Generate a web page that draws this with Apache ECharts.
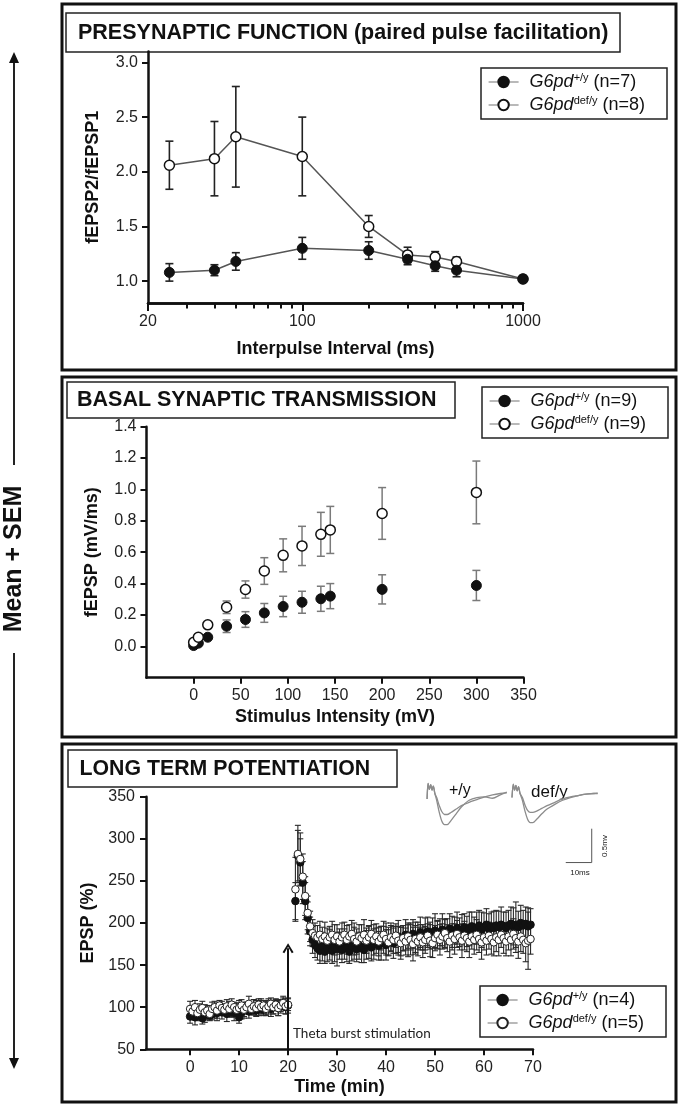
<!DOCTYPE html>
<html><head><meta charset="utf-8">
<script src="https://cdn.jsdelivr.net/npm/echarts@6/dist/echarts.min.js"></script>
<style>html,body{margin:0;padding:0;background:#fff}#c{width:682px;height:1109px}</style>
</head><body><div id="c"></div>
<script>
// ---------- Panel 1: paired pulse facilitation ----------
const ppfInterval = [25, 40, 50, 100, 200, 300, 400, 500, 1000];
const ppfWtMean  = [1.08, 1.10, 1.18, 1.30, 1.28, 1.20, 1.14, 1.10, 1.02];
const ppfWtSem   = [0.08, 0.05, 0.08, 0.10, 0.08, 0.05, 0.05, 0.06, 0.03];
const ppfDefMean = [2.06, 2.12, 2.32, 2.14, 1.50, 1.24, 1.22, 1.18, 1.02];
const ppfDefSem  = [0.22, 0.34, 0.46, 0.36, 0.10, 0.07, 0.05, 0.04, 0.03];
const ppfYTicks = [1.0, 1.5, 2.0, 2.5, 3.0];
const ppfMinorTicks = [30, 40, 50, 60, 70, 80, 90, 200, 300, 400, 500, 600, 700, 800, 900];

// ---------- Panel 2: input/output ----------
const ioStim    = [0, 5, 15, 35, 55, 75, 95, 115, 135, 145, 200, 300];
const ioWtMean  = [0.005, 0.02, 0.058, 0.128, 0.171, 0.213, 0.254, 0.281, 0.303, 0.32, 0.363, 0.388];
const ioWtSem   = [0.005, 0.008, 0.01, 0.04, 0.05, 0.06, 0.065, 0.07, 0.08, 0.08, 0.093, 0.096];
const ioDefMean = [0.026, 0.058, 0.137, 0.249, 0.362, 0.48, 0.58, 0.64, 0.714, 0.742, 0.847, 0.981];
const ioDefSem  = [0.01, 0.01, 0.015, 0.04, 0.055, 0.085, 0.105, 0.125, 0.14, 0.15, 0.165, 0.20];
const ioXTicks = [0, 50, 100, 150, 200, 250, 300, 350];
const ioYTicks = [0, 0.2, 0.4, 0.6, 0.8, 1.0, 1.2, 1.4];

// ---------- Panel 3: LTP ----------
const ltpTime = [0,0.5,1,1.5,2,2.5,3,3.5,4,4.5,5,5.5,6,6.5,7,7.5,8,8.5,9,9.5,10,10.5,11,11.5,12,12.5,13,13.5,14,14.5,15,15.5,16,16.5,17,17.5,18,18.5,19,19.5,20,
21.5,22,22.5,23,23.5,24,24.5,25,25.5,26,26.5,27,27.5,28,28.5,29,29.5,30,30.5,31,31.5,32,32.5,33,33.5,34,34.5,35,35.5,36,36.5,37,37.5,38,38.5,39,39.5,40,40.5,41,41.5,42,42.5,43,43.5,44,44.5,45,45.5,46,46.5,47,47.5,48,48.5,49,49.5,50,50.5,51,51.5,52,52.5,53,53.5,54,54.5,55,55.5,56,56.5,57,57.5,58,58.5,59,59.5,60,60.5,61,61.5,62,62.5,63,63.5,64,64.5,65,65.5,66,66.5,67,67.5,68,68.5,69,69.5];
const ltpWtMean = [89,92,88,90,93,87,91,94,90,92, 95,93,97,94,96,92,98,95,93,97, 88,94,96,99,95,97,100,96,98,101, 97,99,102,98,100,103,99,101,104,100, 102,
226,280,272,248,226,206,190,180,174,170,
167,172,166,170,174,167,171,169,173,168,
175,170,166,172,176,169,173,171,168,174,
177,171,175,179,173,176,180,174,178,182,
176,180,184,178,182,186,180,184,187,182,
185,189,183,187,190,185,188,191,186,189,
192,187,190,193,188,191,194,189,192,195,
190,193,196,191,194,197,192,195,198,193,
196,194,197,195,198,196,194,197,199,196,
198,195,200,197,199,196,198];
const ltpWtSem = [8,7,9,6,8,7,9,8,6,7, 8,9,7,8,6,9,8,7,9,8, 7,8,9,7,8,6,9,7,8,9, 7,8,6,9,8,7,9,8,7,8, 9,
22,30,28,25,22,19,17,16,15,14,
15,17,14,16,18,15,17,20,16,15,
18,16,14,17,19,15,16,18,15,17,
19,16,18,15,17,20,16,18,17,15,
18,16,19,17,15,18,20,16,17,19,
16,18,15,19,17,16,18,20,17,16,
19,17,15,18,20,16,19,17,18,16,
18,20,17,16,19,18,21,17,19,18,
17,20,18,19,21,17,19,18,20,22,
27,19,21,18,20,22,19];
const ltpDefMean = [98,95,100,93,97,99,94,96,92,98, 100,96,102,99,97,101,98,103,100,97, 99,102,97,100,104,98,101,99,103,100, 102,98,101,104,100,103,99,102,105,101, 103,
240,282,276,255,232,212,196,188,185,183,
186,181,184,179,183,186,180,184,178,183,
186,180,184,187,181,178,184,182,186,179,
183,187,180,184,178,182,186,181,177,183,
180,185,179,176,182,178,184,180,175,181,
178,183,177,180,185,179,176,182,186,180,
184,188,182,178,185,181,187,183,179,185,
182,178,184,180,186,181,177,183,179,185,
181,177,183,180,186,182,178,184,180,187,
182,178,184,180,176,179,181];
const ltpDefSem = [9,7,8,6,7,8,9,6,7,8, 7,9,6,8,7,8,9,7,6,8, 9,7,8,6,9,7,8,9,7,8, 6,8,9,7,8,6,9,7,8,9, 7,
38,34,31,27,23,20,18,16,15,14,
16,14,17,15,13,16,18,14,15,17,
15,17,14,16,19,15,14,16,18,15,
14,16,18,15,17,14,16,19,15,17,
16,14,17,19,15,16,14,18,20,16,
17,15,18,16,14,19,17,15,16,18,
15,17,16,19,14,18,16,15,20,17,
16,19,15,17,18,16,20,15,17,16,
18,16,17,19,15,18,17,16,19,18,
17,20,18,16,22,34,18];
const ltpXTicks = [0, 10, 20, 30, 40, 50, 60, 70];
const tbsTime = 20, tbsArrowTop = 170;

// ---------- inset traces (ms, mV) ----------
const traceWtSmall = [[0.8,-0.1],[1.2,0.13],[1.7,0.04],[2.2,0.11],[2.7,0.03],[3.2,0.09],[3.8,-0.02],[4.5,-0.08],[5.5,-0.2],[6.5,-0.29],[7.5,-0.33],[8.5,-0.33],[10,-0.3],[12,-0.25],[14,-0.2],[17,-0.15],[20,-0.11],[23,-0.07],[26,-0.04],[29,-0.02],[31.5,-0.01]];
const traceWtLarge = [[0.8,-0.1],[1.2,0.13],[1.7,0.04],[2.2,0.11],[2.7,0.03],[3.2,0.09],[3.8,-0.02],[4.5,-0.12],[5.5,-0.3],[6.5,-0.43],[7.5,-0.48],[8.5,-0.48],[10,-0.42],[12,-0.32],[14,-0.22],[17,-0.12],[20,-0.08],[23,-0.07],[26,-0.09],[29,-0.04],[31.5,0]];
const traceDefSmall = [[33.5,-0.08],[34,0.12],[34.5,0.03],[35,0.1],[35.5,0.02],[36,0.08],[36.6,-0.02],[37.5,-0.08],[38.5,-0.19],[39.5,-0.27],[40.5,-0.3],[41.5,-0.3],[43,-0.28],[45,-0.24],[47,-0.2],[50,-0.15],[53,-0.1],[56,-0.07],[59,-0.05],[62,-0.03],[65,-0.02],[66.5,-0.015]];
const traceDefLarge = [[33.5,-0.08],[34,0.12],[34.5,0.03],[35,0.1],[35.5,0.02],[36,0.08],[36.6,-0.02],[37.5,-0.12],[38.5,-0.28],[39.5,-0.4],[40.5,-0.45],[41.5,-0.45],[43,-0.4],[45,-0.32],[47,-0.25],[50,-0.18],[53,-0.12],[56,-0.08],[59,-0.05],[62,-0.03],[65,-0.02],[66.5,-0.02]];
const scaleBar = [[54.2,-1.04],[64.2,-1.04],[64.2,-0.54]];

// ---------- legend text ----------
const legendSup = {ppfWt:'+/y', ppfDef:'def/y', ioWt:'+/y', ioDef:'def/y', ltpWt:'+/y', ltpDef:'def/y'};
const legendN = {ppfWt:7, ppfDef:8, ioWt:9, ioDef:9, ltpWt:4, ltpDef:5};

// ---------- helpers ----------
const zip = (xs, ys) => xs.map((x, i) => [x, ys[i]]);
const errData = (xs, m, s) => xs.map((x, i) => [x, m[i] - s[i], m[i] + s[i]]);
function errRender(color, lw, cap) {
  return function (params, api) {
    const x = api.value(0);
    const p1 = api.coord([x, api.value(1)]);
    const p2 = api.coord([x, api.value(2)]);
    const st = {stroke: color, lineWidth: lw};
    return {type: 'group', children: [
      {type: 'line', shape: {x1: p1[0], y1: p1[1], x2: p2[0], y2: p2[1]}, style: st},
      {type: 'line', shape: {x1: p1[0] - cap, y1: p1[1], x2: p1[0] + cap, y2: p1[1]}, style: st},
      {type: 'line', shape: {x1: p2[0] - cap, y1: p2[1], x2: p2[0] + cap, y2: p2[1]}, style: st}
    ]};
  };
}
function makeLegend(names, left, top) {
  return {
    data: names, orient: 'vertical', left: left, top: top,
    itemWidth: 30, itemHeight: 13, itemGap: 3, padding: [4, 22, 4, 7],
    borderColor: '#222', borderWidth: 1.5, backgroundColor: '#fff', selectedMode: false,
    lineStyle: {color: '#8a8a8a', width: 1.2, opacity: 1},
    textStyle: {fontSize: 18, color: '#111', lineHeight: 20, rich: {
      g: {fontSize: 18, fontStyle: 'italic', lineHeight: 20, padding: [0, 0, 0, 6], color: '#111'},
      s: {fontSize: 11, verticalAlign: 'top', lineHeight: 12, color: '#111'},
      n: {fontSize: 18, lineHeight: 20, color: '#111'}
    }},
    formatter: name => '{g|G6pd}{s|' + legendSup[name] + '}{n| (n=' + legendN[name] + ')}'
  };
}
const axisLineS = {show: true, onZero: false, lineStyle: {color: '#111', width: 2.5}};
const tickS = (len, vals) => Object.assign({show: true, length: len, lineStyle: {color: '#111', width: 2}}, vals ? {customValues: vals} : {});
const labelS = (extra) => Object.assign({color: '#222', fontSize: 16, margin: 10}, extra);
const nameS = {fontWeight: 'bold', fontSize: 18, color: '#111'};

const fillStyle = {color: '#111', borderColor: '#111', borderWidth: 1};
const openStyle = {color: '#fff', borderColor: '#111', borderWidth: 1.5};
const openStyleSmall = {color: '#fff', borderColor: '#222', borderWidth: 1};

const option = {
  animation: false,
  backgroundColor: '#fff',
  textStyle: {fontFamily: '"Liberation Sans", Arial, sans-serif'},
  grid: [
    {left: 148, top: 51.5, width: 375, height: 251.5},
    {left: 146.5, top: 426.7, width: 377, height: 251},
    {left: 146, top: 796.7, width: 387, height: 252.6},
    {left: 425, top: 782, width: 174, height: 88},
    // strip whose bottom edge coincides with panel 1's x axis: carries the minor decade ticks
    {left: 148, top: 283, width: 375, height: 20}
  ],
  xAxis: [
    {gridIndex: 0, type: 'log', logBase: 10, min: 20, max: 1000, axisLine: axisLineS, axisTick: tickS(8),
     axisLabel: labelS({margin: 11, formatter: v => String(Math.round(v))}), splitLine: {show: false},
     name: 'Interpulse Interval (ms)', nameLocation: 'middle', nameGap: 37, nameTextStyle: nameS},
    {gridIndex: 1, type: 'value', min: -50, max: 350, axisLine: axisLineS, axisTick: tickS(6, ioXTicks),
     axisLabel: labelS({customValues: ioXTicks, formatter: v => String(v)}), splitLine: {show: false},
     name: 'Stimulus Intensity (mV)', nameLocation: 'middle', nameGap: 30, nameTextStyle: nameS},
    {gridIndex: 2, type: 'value', min: -9, max: 70, axisLine: axisLineS, axisTick: tickS(6, ltpXTicks),
     axisLabel: labelS({customValues: ltpXTicks, formatter: v => String(v)}), splitLine: {show: false},
     name: 'Time (min)', nameLocation: 'middle', nameGap: 29, nameTextStyle: nameS},
    {gridIndex: 3, type: 'value', min: 0, max: 67, show: false},
    {gridIndex: 4, type: 'value', position: 'bottom', min: Math.log10(20), max: 3,
     axisLine: {show: true, onZero: false, lineStyle: {color: '#111', width: 2.5}},
     axisLabel: {show: false}, splitLine: {show: false},
     axisTick: tickS(5.5, ppfMinorTicks.map(v => Math.log10(v)))}
  ],
  yAxis: [
    {gridIndex: 0, type: 'value', min: 0.8, max: 3.1, axisLine: axisLineS, axisTick: tickS(6, ppfYTicks),
     axisLabel: labelS({customValues: ppfYTicks, formatter: v => v.toFixed(1)}), splitLine: {show: false},
     name: 'fEPSP2/fEPSP1', nameLocation: 'middle', nameRotate: 90, nameGap: 46, nameTextStyle: nameS},
    {gridIndex: 1, type: 'value', min: -0.2, max: 1.4, axisLine: axisLineS, axisTick: tickS(6, ioYTicks),
     axisLabel: labelS({customValues: ioYTicks, formatter: v => v.toFixed(1)}), splitLine: {show: false},
     name: 'fEPSP (mV/ms)', nameLocation: 'middle', nameRotate: 90, nameGap: 45, nameTextStyle: nameS},
    {gridIndex: 2, type: 'value', min: 50, max: 350, interval: 50, axisLine: axisLineS, axisTick: tickS(6),
     axisLabel: labelS({margin: 11}), splitLine: {show: false},
     name: 'EPSP (%)', nameLocation: 'middle', nameRotate: 90, nameGap: 45, nameTextStyle: nameS},
    {gridIndex: 3, type: 'value', min: -1.15, max: 0.15, show: false},
    {gridIndex: 4, type: 'value', min: 0, max: 1, show: false}
  ],
  legend: [
    makeLegend(['ppfWt', 'ppfDef'], 481, 68),
    makeLegend(['ioWt', 'ioDef'], 482, 387),
    makeLegend(['ltpWt', 'ltpDef'], 480, 986)
  ],
  series: [
    // panel 1
    {type: 'custom', xAxisIndex: 0, yAxisIndex: 0, silent: true, z: 1, renderItem: errRender('#222', 1.6, 4),
     data: errData(ppfInterval, ppfDefMean, ppfDefSem), encode: {x: 0, y: [1, 2]}},
    {type: 'custom', xAxisIndex: 0, yAxisIndex: 0, silent: true, z: 1, renderItem: errRender('#222', 1.6, 4),
     data: errData(ppfInterval, ppfWtMean, ppfWtSem), encode: {x: 0, y: [1, 2]}},
    {type: 'line', name: 'ppfDef', xAxisIndex: 0, yAxisIndex: 0, z: 3, data: zip(ppfInterval, ppfDefMean),
     symbol: 'circle', symbolSize: 10, lineStyle: {color: '#555', width: 1.5}, itemStyle: openStyle},
    {type: 'line', name: 'ppfWt', xAxisIndex: 0, yAxisIndex: 0, z: 3, data: zip(ppfInterval, ppfWtMean),
     symbol: 'circle', symbolSize: 10, lineStyle: {color: '#555', width: 1.5}, itemStyle: fillStyle},
    // panel 2
    {type: 'custom', xAxisIndex: 1, yAxisIndex: 1, silent: true, z: 1, renderItem: errRender('#7a7a7a', 1.5, 4),
     data: errData(ioStim, ioDefMean, ioDefSem), encode: {x: 0, y: [1, 2]}},
    {type: 'custom', xAxisIndex: 1, yAxisIndex: 1, silent: true, z: 1, renderItem: errRender('#7a7a7a', 1.5, 4),
     data: errData(ioStim, ioWtMean, ioWtSem), encode: {x: 0, y: [1, 2]}},
    {type: 'line', name: 'ioWt', xAxisIndex: 1, yAxisIndex: 1, z: 3, data: zip(ioStim, ioWtMean),
     symbol: 'circle', symbolSize: 10, lineStyle: {opacity: 0}, itemStyle: fillStyle},
    {type: 'line', name: 'ioDef', xAxisIndex: 1, yAxisIndex: 1, z: 3, data: zip(ioStim, ioDefMean),
     symbol: 'circle', symbolSize: 10, lineStyle: {opacity: 0}, itemStyle: openStyle},
    // panel 3
    {type: 'custom', xAxisIndex: 2, yAxisIndex: 2, silent: true, z: 1, renderItem: errRender('#2a2a2a', 1.1, 3),
     data: errData(ltpTime, ltpWtMean, ltpWtSem), encode: {x: 0, y: [1, 2]}},
    {type: 'custom', xAxisIndex: 2, yAxisIndex: 2, silent: true, z: 1, renderItem: errRender('#2a2a2a', 1.1, 3),
     data: errData(ltpTime, ltpDefMean, ltpDefSem), encode: {x: 0, y: [1, 2]}},
    {type: 'line', name: 'ltpWt', xAxisIndex: 2, yAxisIndex: 2, z: 3, data: zip(ltpTime, ltpWtMean),
     symbol: 'circle', symbolSize: 7.5, lineStyle: {opacity: 0}, itemStyle: fillStyle,
     markLine: {silent: true, symbol: ['none', 'path://M0,9 L5,0 L10,9 L8.4,10 L5,3.6 L1.6,10 Z'], symbolSize: [11, 10],
       lineStyle: {color: '#111', width: 2, type: 'solid'}, label: {show: false},
       data: [[{coord: [tbsTime, 50]}, {coord: [tbsTime, tbsArrowTop]}]]}},
    {type: 'line', name: 'ltpDef', xAxisIndex: 2, yAxisIndex: 2, z: 4, data: zip(ltpTime, ltpDefMean),
     symbol: 'circle', symbolSize: 7.5, lineStyle: {opacity: 0}, itemStyle: openStyleSmall},
    // inset traces
    {type: 'line', xAxisIndex: 3, yAxisIndex: 3, data: traceWtSmall, symbol: 'none', smooth: 0.3, lineStyle: {color: '#8c8c8c', width: 1.3}},
    {type: 'line', xAxisIndex: 3, yAxisIndex: 3, data: traceWtLarge, symbol: 'none', smooth: 0.3, lineStyle: {color: '#8c8c8c', width: 1.3}},
    {type: 'line', xAxisIndex: 3, yAxisIndex: 3, data: traceDefSmall, symbol: 'none', smooth: 0.3, lineStyle: {color: '#8c8c8c', width: 1.3}},
    {type: 'line', xAxisIndex: 3, yAxisIndex: 3, data: traceDefLarge, symbol: 'none', smooth: 0.3, lineStyle: {color: '#8c8c8c', width: 1.3}},
    {type: 'line', xAxisIndex: 3, yAxisIndex: 3, data: scaleBar, symbol: 'none', lineStyle: {color: '#555', width: 1}}
  ],
  graphic: [
    // panel frames
    {type: 'rect', shape: {x: 62, y: 4, width: 614, height: 366}, style: {fill: 'none', stroke: '#111', lineWidth: 3}, z: -1},
    {type: 'rect', shape: {x: 62, y: 377, width: 614, height: 360}, style: {fill: 'none', stroke: '#111', lineWidth: 3}, z: -1},
    {type: 'rect', shape: {x: 62, y: 744, width: 614, height: 358}, style: {fill: 'none', stroke: '#111', lineWidth: 3}, z: -1},
    // title boxes
    {type: 'rect', shape: {x: 66, y: 13, width: 554, height: 39}, style: {fill: '#fff', stroke: '#222', lineWidth: 1.5}},
    {type: 'text', x: 78, y: 33, style: {text: 'PRESYNAPTIC FUNCTION (paired pulse facilitation)', fill: '#111', font: 'bold 21.5px "Liberation Sans", Arial, sans-serif', verticalAlign: 'middle'}},
    {type: 'rect', shape: {x: 67, y: 382, width: 388, height: 36}, style: {fill: '#fff', stroke: '#222', lineWidth: 1.5}},
    {type: 'text', x: 77, y: 400.5, style: {text: 'BASAL SYNAPTIC TRANSMISSION', fill: '#111', font: 'bold 21.5px "Liberation Sans", Arial, sans-serif', verticalAlign: 'middle'}},
    {type: 'rect', shape: {x: 68, y: 750, width: 329, height: 37}, style: {fill: '#fff', stroke: '#222', lineWidth: 1.5}},
    {type: 'text', x: 79.5, y: 769, style: {text: 'LONG TERM POTENTIATION', fill: '#111', font: 'bold 21.3px "Liberation Sans", Arial, sans-serif', verticalAlign: 'middle'}},
    // Mean + SEM side label
    {type: 'text', x: 14, y: 559, rotation: Math.PI / 2, style: {text: 'Mean + SEM', fill: '#111', font: 'bold 25px "Liberation Sans", Arial, sans-serif', align: 'center', verticalAlign: 'middle'}},
    {type: 'line', shape: {x1: 14, y1: 60, x2: 14, y2: 465}, style: {stroke: '#222', lineWidth: 2}},
    {type: 'polygon', shape: {points: [[14, 52], [9, 63], [19, 63]]}, style: {fill: '#111'}},
    {type: 'line', shape: {x1: 14, y1: 653, x2: 14, y2: 1061}, style: {stroke: '#222', lineWidth: 2}},
    {type: 'polygon', shape: {points: [[14, 1069], [9, 1058], [19, 1058]]}, style: {fill: '#111'}},
    // inset labels
    {type: 'text', x: 449, y: 791, style: {text: '+/y', fill: '#111', font: '16px "Liberation Sans", Arial, sans-serif', verticalAlign: 'middle'}},
    {type: 'text', x: 531, y: 792, style: {text: 'def/y', fill: '#111', font: '17px "Liberation Sans", Arial, sans-serif', verticalAlign: 'middle'}},
    {type: 'text', x: 605, y: 846, rotation: Math.PI / 2, style: {text: '0.5mv', fill: '#222', font: '8px "Liberation Sans", Arial, sans-serif', align: 'center', verticalAlign: 'middle'}},
    {type: 'text', x: 580, y: 873, style: {text: '10ms', fill: '#222', font: '8px "Liberation Sans", Arial, sans-serif', align: 'center', verticalAlign: 'middle'}},
    {type: 'text', x: 293, y: 1034, style: {text: 'Theta burst stimulation', fill: '#222', font: '13.5px Lato, "Open Sans", sans-serif', verticalAlign: 'middle'}}
  ]
};
const chart = echarts.init(document.getElementById('c'), null, {renderer: 'canvas'});
chart.setOption(option);
</script></body></html>
